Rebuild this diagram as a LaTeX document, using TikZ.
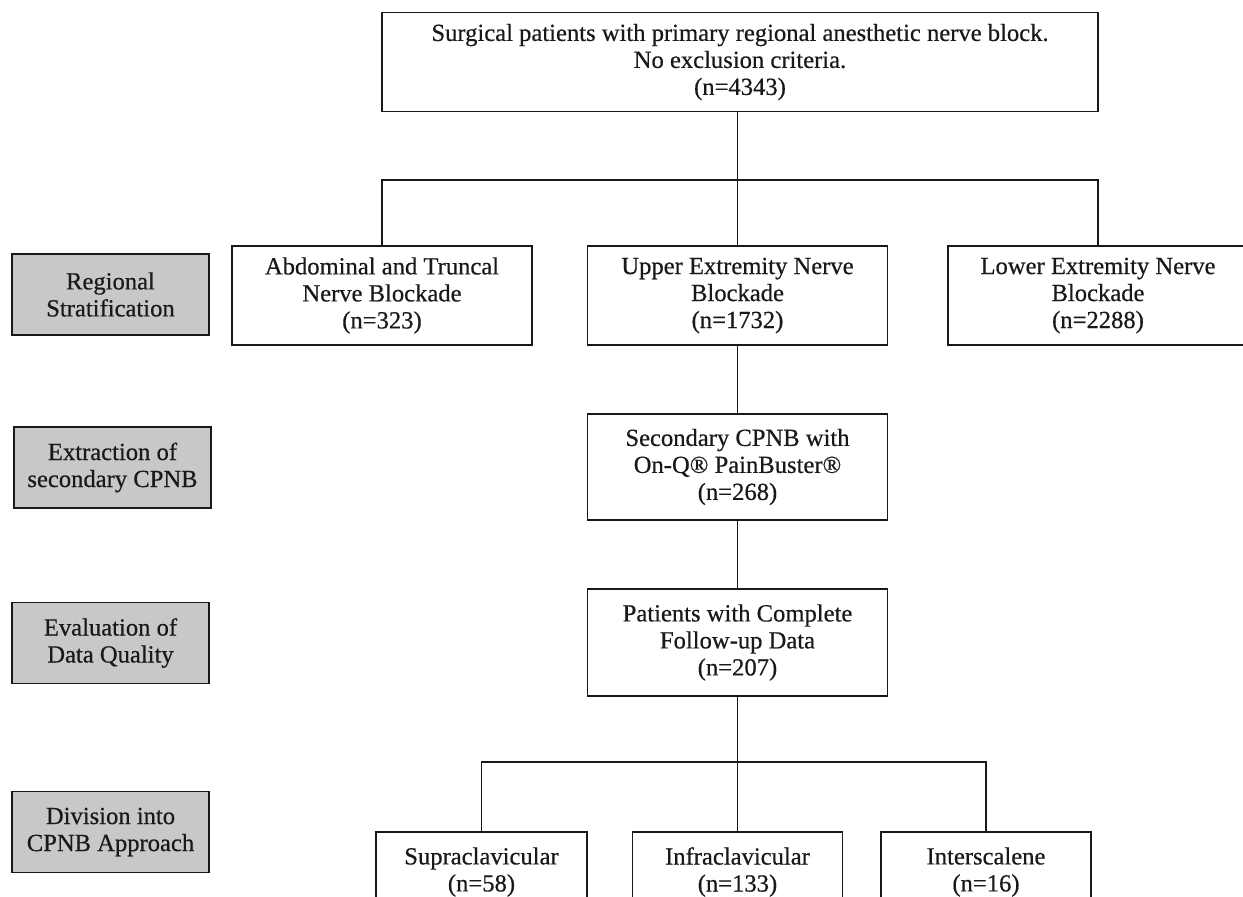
\documentclass[tikz,border=0pt]{standalone}
\usepackage{fontspec}
\setmainfont{Liberation Serif}[BoldFont={Liberation Serif}, BoldFeatures={FakeBold=0.5}]
\definecolor{greyfill}{RGB}{200,200,200}
\definecolor{inkc}{RGB}{25,25,25}
\newcommand\diagfont{\fontsize{24.6}{27}\selectfont\bfseries}
\begin{document}
\begin{tikzpicture}[x=1pt,y=-1pt,
  box/.style={draw=inkc, line width=1.9pt, inner sep=0pt, align=center, font=\diagfont, text=inkc},
  greybox/.style={box, fill=greyfill, minimum width=197pt, minimum height=81pt},
  link/.style={draw=inkc, line width=1.9pt}]
\useasboundingbox (0,0) rectangle (1243,897);
\clip (0,0) rectangle (1243,897);
\fill[white] (0,0) rectangle (1243,897);

% main column
\node[box, minimum width=716pt, minimum height=99pt] (top) at (740,62)
  {Surgical patients with primary regional anesthetic nerve block.\\ No exclusion criteria.\\ (n=4343)};
\node[box, minimum width=300pt, minimum height=99pt] (abd) at (382,295.5)
  {Abdominal and Truncal\\ Nerve Blockade\\ (n=323)};
\node[box, minimum width=300pt, minimum height=99pt] (up) at (737.5,295.5)
  {Upper Extremity Nerve\\ Blockade\\ (n=1732)};
\node[box, minimum width=300pt, minimum height=99pt] (low) at (1098,295.5)
  {Lower Extremity Nerve\\ Blockade\\ (n=2288)};
\node[box, minimum width=300pt, minimum height=106pt] (sec) at (737.5,467)
  {Secondary CPNB with\\ On-Q® PainBuster®\\ (n=268)};
\node[box, minimum width=300pt, minimum height=107pt] (pat) at (737.5,642.5)
  {Patients with Complete\\ Follow-up Data\\ (n=207)};
\node[box, minimum width=211pt, minimum height=80pt] (sup) at (481.5,872)
  {Supraclavicular\\ (n=58)};
\node[box, minimum width=210pt, minimum height=80pt] (inf) at (737.5,872)
  {Infraclavicular\\ (n=133)};
\node[box, minimum width=210pt, minimum height=80pt] (int) at (986,872)
  {Interscalene\\ (n=16)};

% stage labels
\node[greybox] (g1) at (110.5,294.5) {Regional\\ Stratification};
\node[greybox] (g2) at (112.5,467.5) {Extraction of\\ secondary CPNB};
\node[greybox] (g3) at (110.5,643) {Evaluation of\\ Data Quality};
\node[greybox] (g4) at (110.5,832) {Division into\\ CPNB Approach};

% connectors
\coordinate (bar1) at (737.5,180);
\coordinate (bar2) at (737.5,762);
\draw[link] (top.south -| up.north) -- (up.north);
\draw[link] (abd.north) -- (abd.north |- bar1) -- (low.north |- bar1) -- (low.north);
\draw[link] (up.south) -- (sec.north);
\draw[link] (sec.south) -- (pat.north);
\draw[link] (pat.south) -- (inf.north);
\draw[link] (sup.north) -- (sup.north |- bar2) -- (int.north |- bar2) -- (int.north);
\end{tikzpicture}
\end{document}
